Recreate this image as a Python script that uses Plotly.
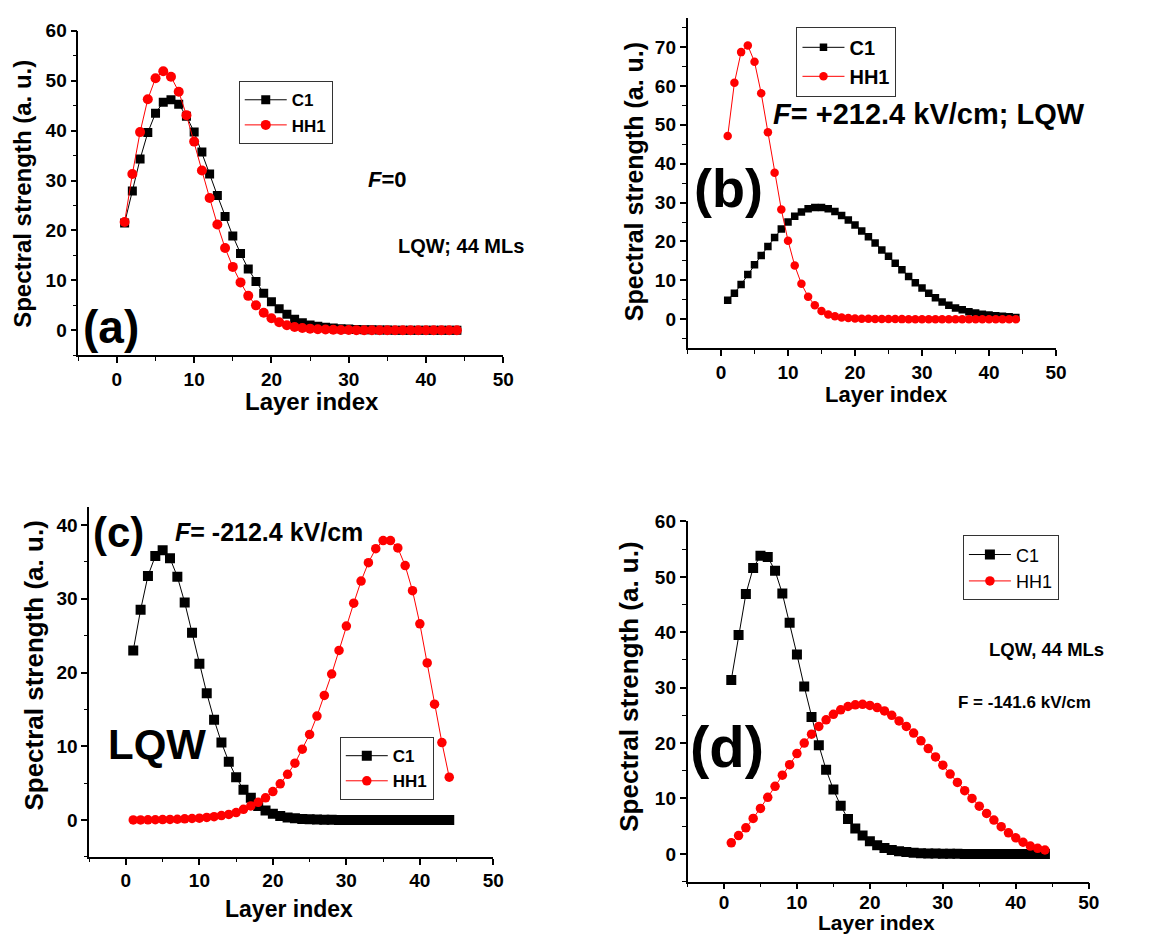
import plotly.graph_objects as go

W, H = 1176, 935
FONT = "Liberation Sans, Arial, Helvetica, sans-serif"

layer = [1, 2, 3, 4, 5, 6, 7, 8, 9, 10, 11, 12, 13, 14, 15, 16, 17, 18, 19, 20, 21, 22,
         23, 24, 25, 26, 27, 28, 29, 30, 31, 32, 33, 34, 35, 36, 37, 38, 39, 40, 41, 42, 43, 44]

# Panel (a): F = 0
c1_a = [21.5, 27.9, 34.3, 39.6, 43.5, 45.7, 46.2, 45.3, 42.9, 39.7, 35.7, 31.3, 27.0, 22.8,
        18.9, 15.4, 12.3, 9.8, 7.4, 5.7, 4.3, 3.2, 2.2, 1.5, 1.05, 0.8, 0.6, 0.45, 0.33, 0.24,
        0.17, 0.12, 0.09, 0.06, 0.04, 0.03, 0.02, 0.015, 0.01, 0.01, 0.005, 0.005, 0.0, 0.0]
hh1_a = [21.7, 31.3, 39.7, 46.3, 50.5, 51.9, 50.8, 47.8, 43.1, 37.8, 32.0, 26.5, 21.2, 16.5,
         12.7, 9.6, 6.9, 5.0, 3.5, 2.4, 1.6, 1.0, 0.66, 0.46, 0.33, 0.22, 0.15, 0.1, 0.07, 0.05,
         0.03, 0.02, 0.015, 0.01, 0.01, 0.005, 0.005, 0.0, 0.0, 0.0, 0.0, 0.0, 0.0, 0.0]

# Panel (b): F = +212.4 kV/cm
c1_b = [4.9, 6.7, 8.9, 11.5, 14.0, 16.4, 18.7, 21.0, 23.2, 25.0, 26.5, 27.6, 28.4, 28.7,
        28.7, 28.4, 27.7, 26.7, 25.5, 24.2, 22.7, 21.2, 19.6, 17.8, 16.2, 14.4, 12.7, 11.0,
        9.4, 8.0, 6.7, 5.5, 4.4, 3.6, 2.9, 2.4, 1.9, 1.6, 1.3, 1.1, 0.9, 0.75, 0.6, 0.45]
hh1_b = [47.1, 60.8, 68.7, 70.4, 66.2, 58.1, 48.1, 37.7, 28.2, 20.2, 13.8, 9.1, 5.8, 3.6,
         2.1, 1.2, 0.75, 0.45, 0.3, 0.2, 0.13, 0.09, 0.06, 0.04, 0.03, 0.02, 0.015, 0.01,
         0.01, 0.005, 0.005, 0.0, 0.0, 0.0, 0.0, 0.0, 0.0, 0.0, 0.0, 0.0, 0.0, 0.0, 0.0, 0.0]

# Panel (c): F = -212.4 kV/cm
c1_c = [23.0, 28.5, 33.1, 35.8, 36.6, 35.5, 33.0, 29.5, 25.4, 21.2, 17.2, 13.6, 10.5, 7.9,
        5.8, 4.1, 3.0, 1.9, 1.3, 0.85, 0.55, 0.35, 0.22, 0.14, 0.09, 0.05, 0.03, 0.02, 0.01,
        0.0, 0.0, 0.0, 0.0, 0.0, 0.0, 0.0, 0.0, 0.0, 0.0, 0.0, 0.0, 0.0, 0.0, 0.0]
hh1_c = [0.01, 0.01, 0.02, 0.03, 0.05, 0.07, 0.1, 0.15, 0.2, 0.25, 0.35, 0.45, 0.6, 0.75,
         1.0, 1.45, 1.9, 2.4, 3.0, 3.85, 4.9, 6.2, 7.7, 9.6, 11.6, 14.1, 16.9, 19.8, 23.0,
         26.3, 29.4, 32.4, 34.9, 36.8, 37.9, 37.9, 36.9, 34.5, 31.1, 26.6, 21.3, 15.7, 10.5, 5.8]

# Panel (d): F = -141.6 kV/cm
c1_d = [31.4, 39.5, 46.9, 51.6, 53.8, 53.6, 51.1, 47.0, 41.7, 36.0, 30.2, 24.7, 19.6, 15.2,
        11.6, 8.7, 6.3, 4.6, 3.3, 2.3, 1.55, 1.07, 0.7, 0.48, 0.32, 0.2, 0.13, 0.08, 0.05,
        0.03, 0.02, 0.01, 0.0, 0.0, 0.0, 0.0, 0.0, 0.0, 0.0, 0.0, 0.0, 0.0, 0.0, 0.0]
hh1_d = [2.0, 3.3, 4.7, 6.4, 8.2, 10.2, 12.2, 14.2, 16.1, 18.1, 20.0, 21.6, 23.0, 24.2,
         25.2, 26.0, 26.6, 26.9, 27.0, 26.8, 26.4, 25.8, 25.0, 24.0, 23.0, 21.8, 20.4, 19.0,
         17.5, 16.0, 14.4, 12.9, 11.4, 10.0, 8.6, 7.3, 6.1, 4.9, 3.8, 2.9, 2.1, 1.4, 1.0, 0.7]

series_names = ["C1", "HH1"]
x_range = [-5, 50]
y_ranges = {"a": [-5, 60], "b": [-7.5, 77.5], "c": [-5, 42.5], "d": [-5, 60]}
x_ticks = [0, 10, 20, 30, 40, 50]

BLACK = "#000000"
RED = "#ff0000"


def px_x(p):
    return p / W


def px_y(p):
    return 1 - p / H


fig = go.Figure()

panels = [
    # key, axis suffix, C1, HH1, legend name, square size, circle size
    ("a", "", c1_a, hh1_a, "legend", 9, 10),
    ("b", "2", c1_b, hh1_b, "legend2", 7.5, 8.5),
    ("c", "3", c1_c, hh1_c, "legend3", 10, 9.5),
    ("d", "4", c1_d, hh1_d, "legend4", 10, 9.5),
]

for key, sfx, c1, hh1, leg, sq, ci in panels:
    fig.add_trace(go.Scatter(
        x=layer, y=c1, name=series_names[0], mode="lines+markers",
        xaxis="x" + sfx, yaxis="y" + sfx, legend=leg,
        line=dict(color=BLACK, width=1),
        marker=dict(symbol="square", size=sq, color=BLACK, line=dict(width=0)),
    ))
    fig.add_trace(go.Scatter(
        x=layer, y=hh1, name=series_names[1], mode="lines+markers",
        xaxis="x" + sfx, yaxis="y" + sfx, legend=leg,
        line=dict(color=RED, width=1),
        marker=dict(symbol="circle", size=ci, color=RED, line=dict(width=0)),
    ))

# axis pixel boxes: (left, right, top, bottom)
boxes = {
    "a": (79, 508, 21, 349),
    "b": (694, 1066, 8, 342),
    "c": (90, 498, 502, 856),
    "d": (694, 1099, 517, 881),
}
tick_sizes = {"a": 19, "b": 19, "c": 19, "d": 19}
x_label_standoff = {"a": 0, "b": 0, "c": 0, "d": -3}

layout = dict(
    width=W, height=H,
    paper_bgcolor="white", plot_bgcolor="white",
    margin=dict(l=0, r=0, t=0, b=0),
    font=dict(family=FONT, color=BLACK),
    showlegend=True,
)

for (key, sfx, *_rest) in panels:
    l, r, t, b = boxes[key]
    xname = "xaxis" + sfx
    yname = "yaxis" + sfx
    tf = dict(family=FONT, size=tick_sizes[key], color=BLACK, weight="bold")
    layout[xname] = dict(
        domain=[px_x(l), px_x(r)], anchor="y" + sfx, range=x_range,
        tickmode="array", tickvals=x_ticks,
        showline=True, linecolor=BLACK, linewidth=1.5,
        ticks="outside", ticklen=6, tickwidth=1.5, tickcolor=BLACK,
        minor=dict(ticks="outside", ticklen=3.5, tickwidth=1.2, tickcolor=BLACK,
                   tickmode="linear", tick0=-5, dtick=10),
        showgrid=False, zeroline=False, tickfont=tf,
        ticklabelstandoff=x_label_standoff[key],
    )
    yr = y_ranges[key]
    layout[yname] = dict(
        domain=[px_y(b), px_y(t)], anchor="x" + sfx, range=yr,
        tick0=0, dtick=10,
        showline=True, linecolor=BLACK, linewidth=1.5,
        ticks="outside", ticklen=6, tickwidth=1.5, tickcolor=BLACK,
        minor=dict(ticks="outside", ticklen=3.5, tickwidth=1.2, tickcolor=BLACK,
                   tick0=-5, dtick=10),
        showgrid=False, zeroline=False, tickfont=tf,
    )

legend_common = dict(
    xref="paper", yref="paper", xanchor="left", yanchor="top",
    bgcolor="white", bordercolor="#333333", borderwidth=1,
    itemwidth=42, tracegroupgap=0,
)
layout["legend"] = dict(legend_common, x=px_x(241), y=px_y(72),
                        font=dict(family=FONT, size=17, color=BLACK, weight="bold"))
layout["legend2"] = dict(legend_common, x=px_x(804), y=px_y(17),
                         font=dict(family=FONT, size=20, color=BLACK, weight="bold"))
layout["legend3"] = dict(legend_common, x=px_x(343), y=px_y(735),
                         font=dict(family=FONT, size=17, color=BLACK, weight="bold"))
layout["legend4"] = dict(legend_common, x=px_x(972), y=px_y(531),
                         font=dict(family=FONT, size=18, color=BLACK))

fig.update_layout(**layout)


def note(text, cx, cy, size, bold=True, angle=0):
    fig.add_annotation(
        text=text, x=px_x(cx), y=px_y(cy), xref="paper", yref="paper",
        xanchor="center", yanchor="middle", showarrow=False, textangle=angle,
        font=dict(family=FONT, size=size, color=BLACK, weight="bold" if bold else "normal"),
    )


# axis titles
note("Layer index", 315, 396, 24)
note("Layer index", 895, 389, 22)
note("Layer index", 292, 909, 23)
note("Layer index", 885, 922, 21)
note("Spectral strength (a. u.)", 22, 186, 24, angle=-90)
note("Spectral strength (a. u.)", 640, 174, 25, angle=-90)
note("Spectral strength (a. u.)", 34, 663, 26, angle=-90)
note("Spectral strength (a. u.)", 635, 684, 26, angle=-90)

# panel labels
note("(a)", 112, 320, 46)
note("(b)", 735, 180, 54)
note("(c)", 120, 528, 42)
note("(d)", 734, 744, 58)

# in-panel texts
note("<i>F</i>=0", 391, 171, 22)
note("LQW; 44 MLs", 465, 239, 20)
note("<i>F</i>= +212.4 kV/cm; LQW", 938, 105, 29)
note("<i>F</i>= -212.4 kV/cm", 272, 528, 25)
note("LQW", 158, 742, 42)
note("LQW, 44 MLs", 1056, 646, 18.5)
note("F = -141.6 kV/cm", 1034, 700, 17)

fig.write_html(
    "out.html",
    config={"displayModeBar": False},
    post_script="document.body.style.margin='0px';document.body.style.overflow='hidden';",
)
